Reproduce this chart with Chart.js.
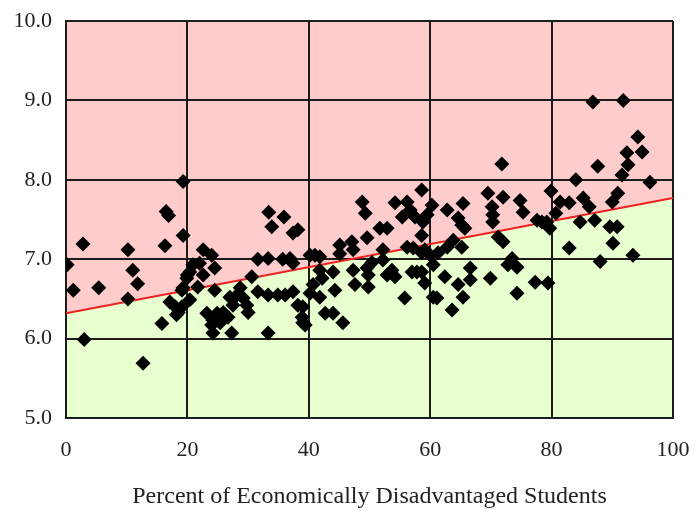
<!DOCTYPE html>
<html><head><meta charset="utf-8">
<script src="https://cdn.jsdelivr.net/npm/chart.js@4/dist/chart.umd.min.js"></script>
<style>html,body{margin:0;padding:0;background:#fff}#wrap{width:695px;height:517px}</style>
</head><body><div id="wrap"><canvas id="c" width="695" height="517"></canvas></div>
<script>
// Percent of economically disadvantaged students (x) and score (y)
const pctDisadvantaged = [
 0.2,1.2,2.8,3.0,5.4,10.2,11.0,11.8,10.2,12.7,15.8,16.3,16.5,16.9,17.1,18.5,18.0,18.2,19.3,19.3,19.3,19.1,20.0,
 19.1,19.9,20.4,20.9,20.4,21.7,22.6,22.6,24.0,24.5,24.5,23.2,24.9,25.9,24.2,25.4,24.0,24.2,26.7,27.0,27.5,27.3,28.2,28.7,29.2,29.8,30.0,30.6,31.6,31.6,33.3,33.3,33.3,33.4,33.9,34.9,35.7,35.9,36.1,36.9,37.4,37.4,37.4,38.2,38.2,38.9,39.4,22.0,24.5,
 39.0,39.0,40.2,41.0,41.8,40.2,40.7,41.8,41.8,42.2,42.7,44.0,44.0,44.3,45.1,45.1,45.6,47.1,47.3,47.3,47.6,48.8,49.3,49.6,49.6,49.8,49.8,50.4,51.7,52.9,52.2,52.2,52.9,53.7,54.2,54.2,55.4,55.8,56.2,56.2,56.7,57.0,57.2,57.5,57.8,58.6,58.6,58.6,58.8,59.1,
 59.5,59.1,60.0,61.3,60.5,58.6,60.3,60.5,61.1,62.4,62.8,62.8,63.6,63.8,64.6,64.6,65.2,65.2,65.4,65.4,65.7,66.6,66.6,69.5,69.9,70.2,70.3,70.3,71.2,71.8,72.0,72.0,72.8,73.5,74.3,74.3,74.8,75.3,77.3,77.6,79.2,79.4,
 78.4,79.7,79.9,80.7,81.4,82.9,82.9,84.0,84.7,85.2,86.2,86.8,87.1,87.6,88.0,89.6,90.0,90.1,90.8,90.9,91.6,91.8,92.4,92.6,93.4,94.2,94.9,96.2
];
const scores = [
 6.93,6.61,7.19,5.99,6.64,7.12,6.86,6.69,6.50,5.69,6.19,7.17,7.60,7.55,6.46,6.33,6.40,6.30,7.98,7.30,6.64,6.40,6.80,
 6.61,6.76,6.84,6.93,6.49,6.65,7.12,6.80,7.05,6.89,6.61,6.32,6.32,6.33,6.23,6.20,6.17,6.07,6.27,6.52,6.42,6.07,6.55,6.64,6.51,6.42,6.33,6.78,7.00,6.59,7.01,6.55,6.07,7.59,7.41,6.55,7.00,7.53,6.55,7.01,7.33,6.95,6.59,7.37,6.42,6.27,6.17,6.95,6.26,
 6.40,6.20,7.05,7.05,7.03,6.57,6.68,6.86,6.52,6.76,6.32,6.84,6.32,6.61,7.18,7.07,6.20,7.22,7.12,6.86,6.68,7.72,7.58,7.27,6.89,6.80,6.65,6.96,7.39,7.39,7.12,6.99,6.80,6.86,7.71,6.78,7.53,6.51,7.72,7.15,7.62,6.84,7.14,7.53,6.84,7.87,7.30,7.08,7.47,6.70,
 7.56,7.12,7.05,7.08,6.93,6.84,7.68,6.52,6.51,6.78,7.62,7.15,6.36,7.24,7.52,6.68,7.43,7.15,7.70,6.52,7.39,6.89,6.74,7.83,6.76,7.66,7.56,7.47,7.28,8.20,7.78,7.22,6.93,7.01,6.90,6.57,7.74,7.59,6.71,7.49,7.47,6.70,
 7.47,7.39,7.86,7.58,7.72,7.71,7.14,8.00,7.47,7.77,7.66,8.98,7.49,8.17,6.97,7.41,7.72,7.20,7.41,7.83,8.06,9.00,8.34,8.19,7.05,8.54,8.35,7.97
];
// Trend line end points
const trendX = [0, 100];
const trendY = [6.32, 7.77];
// Axis ticks
const xTicks = [0, 20, 40, 60, 80, 100];
const yTicks = [5, 6, 7, 8, 9, 10];
const xTitle = 'Percent of Economically Disadvantaged Students';

const points = pctDisadvantaged.map((x, i) => ({x: x, y: scores[i]}));
const trend = trendX.map((x, i) => ({x: x, y: trendY[i]}));

const FONT = "'Liberation Serif', 'Times New Roman', serif";
const GRID = '#1c1c1c';

new Chart(document.getElementById('c'), {
  type: 'scatter',
  data: {
    datasets: [
      {type: 'line', data: trend, borderWidth: 0, pointRadius: 0, fill: 'end', backgroundColor: '#FFCCCC', order: 4},
      {type: 'line', data: trend, borderWidth: 0, pointRadius: 0, fill: 'start', backgroundColor: '#E8FFCF', order: 5},
      {type: 'line', data: trend, borderColor: '#EE2020', borderWidth: 2, pointRadius: 0, fill: false, order: 2},
      {data: points, pointStyle: 'rectRot', pointRadius: 7.5, pointHoverRadius: 7.5,
       backgroundColor: '#000', borderColor: '#000', borderWidth: 0, order: 1, clip: 0}
    ]
  },
  options: {
    responsive: false,
    animation: false,
    layout: {padding: {top: 21, right: 22, left: 0, bottom: 0}},
    plugins: {
      legend: {display: false},
      tooltip: {enabled: false},
      filler: {drawTime: 'beforeDraw'}
    },
    scales: {
      x: {
        type: 'linear', min: 0, max: 100,
        afterBuildTicks: s => { s.ticks = xTicks.map(v => ({value: v})); },
        afterFit: s => { s.height = 99; s.paddingRight = 0; s.paddingLeft = 0; },
        grid: {color: GRID, lineWidth: 2, drawTicks: false},
        border: {color: GRID, width: 2},
        ticks: {padding: 19, color: '#222', font: {family: FONT, size: 22}, callback: v => String(v)},
        title: {display: true, text: xTitle, color: '#222', font: {family: FONT, size: 24}, padding: {top: 0, bottom: 6}}
      },
      y: {
        type: 'linear', min: 5, max: 10,
        afterBuildTicks: s => { s.ticks = yTicks.map(v => ({value: v})); },
        afterFit: s => { s.width = 66; s.paddingTop = 0; s.paddingBottom = 0; },
        grid: {color: GRID, lineWidth: 2, drawTicks: false},
        border: {color: GRID, width: 2},
        ticks: {padding: 14, color: '#222', font: {family: FONT, size: 22}, callback: v => Number(v).toFixed(1)}
      }
    }
  }
});
</script>
</body></html>
